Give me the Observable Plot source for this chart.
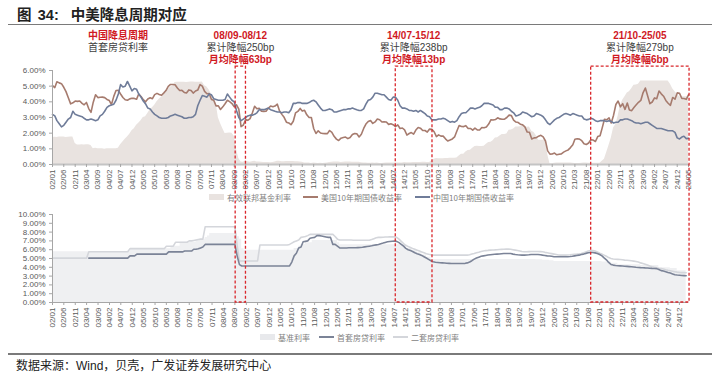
<!DOCTYPE html>
<html><head><meta charset="utf-8">
<script src="https://cdn.jsdelivr.net/npm/d3@7"></script>
<script src="https://cdn.jsdelivr.net/npm/@observablehq/plot@0.6"></script>
<style>
body{margin:0;background:#fff;}
#root{position:relative;width:719px;height:377px;overflow:hidden;background:#fff;font-family:"Liberation Sans","Noto Sans CJK SC",sans-serif;}
.abs{position:absolute;}
.ann{position:absolute;transform:translateX(-50%);text-align:center;white-space:nowrap;font-size:10px;line-height:12px;}
.red{color:#d0191f;font-weight:bold;}
.gray{color:#404040;}
.leg{position:absolute;display:flex;align-items:center;font-size:8px;color:#7f7f7f;white-space:nowrap;font-family:"Noto Sans CJK SC","Liberation Sans",sans-serif;}
.leg .it{display:flex;align-items:center;margin-right:0;}
.leg svg{margin-right:3px;}
</style></head><body>
<div id="root">
  <div class="abs" style="left:17px;top:5px;font-size:14.5px;font-weight:bold;color:#222;line-height:18px;white-space:nowrap;font-family:'Noto Sans CJK SC','Liberation Sans',sans-serif;">图 <span style="font-family:'Liberation Sans';margin-left:3px;">34:</span><span style="margin-left:12px;">中美降息周期对应</span></div>
  <div class="abs" style="left:8px;top:23.5px;width:704px;height:1.5px;background:#7a7a7a;"></div>
  <div id="annots"></div>
  <div id="top" class="abs" style="left:0;top:60px;"></div>
  <div id="legTop" class="leg" style="top:191px;left:0;"></div>
  <div id="bot" class="abs" style="left:0;top:205px;"></div>
  <div id="legBot" class="leg" style="top:331px;left:0;"></div>
  <div class="abs" style="left:8px;top:353px;width:704px;height:1.5px;background:#7a7a7a;"></div>
  <div class="abs" style="left:16px;top:357px;font-size:12px;line-height:16px;color:#222;white-space:nowrap;font-family:'Noto Sans CJK SC','Liberation Sans',sans-serif;">数据来源：<span style="font-family:'Liberation Sans'">Wind</span>，贝壳，广发证券发展研究中心</div>
</div>
<script>
// ---------- DATA (monthly, starting 2002-01) ----------
const fedFunds = [
 [1.73,1.74,1.73,1.75,1.75,1.75,1.73,1.74,1.75,1.75,1.34,1.24],
 [1.24,1.26,1.25,1.26,1.26,1.22,1.01,1.03,1.01,1.01,1.00,0.98],
 [1.00,1.01,1.00,1.00,1.00,1.03,1.26,1.43,1.61,1.76,1.93,2.16],
 [2.28,2.50,2.63,2.79,3.00,3.04,3.26,3.50,3.62,3.78,4.00,4.16],
 [4.29,4.49,4.59,4.79,4.94,4.99,5.24,5.25,5.25,5.25,5.25,5.24],
 [5.25,5.26,5.26,5.25,5.25,5.25,5.26,5.02,4.94,4.76,4.49,4.24],
 [3.94,2.98,2.61,2.28,1.98,2.00,2.01,2.00,1.81,0.97,0.39,0.16],
 [0.15,0.22,0.18,0.15,0.18,0.21,0.16,0.16,0.15,0.12,0.12,0.12],
 [0.11,0.13,0.16,0.20,0.20,0.18,0.18,0.19,0.19,0.19,0.19,0.18],
 [0.17,0.16,0.14,0.10,0.09,0.09,0.07,0.10,0.08,0.07,0.08,0.07],
 [0.08,0.10,0.13,0.14,0.16,0.16,0.16,0.13,0.14,0.16,0.16,0.16],
 [0.14,0.15,0.14,0.15,0.11,0.09,0.09,0.08,0.08,0.09,0.08,0.09],
 [0.07,0.07,0.08,0.09,0.09,0.10,0.09,0.09,0.09,0.09,0.09,0.12],
 [0.11,0.11,0.11,0.12,0.12,0.13,0.13,0.14,0.14,0.12,0.12,0.24],
 [0.34,0.38,0.36,0.37,0.37,0.38,0.39,0.40,0.40,0.40,0.41,0.54],
 [0.65,0.66,0.79,0.90,0.91,1.04,1.15,1.16,1.15,1.15,1.16,1.30],
 [1.41,1.42,1.51,1.69,1.70,1.82,1.91,1.91,1.95,2.19,2.20,2.27],
 [2.40,2.40,2.41,2.42,2.39,2.38,2.40,2.13,2.04,1.83,1.55,1.55],
 [1.55,1.58,0.65,0.05,0.05,0.08,0.09,0.10,0.09,0.09,0.09,0.09],
 [0.09,0.08,0.07,0.07,0.06,0.08,0.10,0.09,0.08,0.08,0.08,0.08],
 [0.08,0.08,0.20,0.33,0.77,1.21,1.68,2.33,2.56,3.08,3.78,4.10],
 [4.33,4.57,4.65,4.83,5.06,5.08,5.12,5.33,5.33,5.33,5.33,5.33],
 [5.33,5.33,5.33,5.33,5.33,5.33,5.33,5.33,5.13,4.83,4.64,4.48],
 [4.33,4.33,4.33,4.33,4.33]
].flat();

const us10y = [
 [5.04,4.91,5.28,5.21,5.16,4.93,4.65,4.26,3.87,3.94,4.05,4.03],
 [4.05,3.90,3.81,3.96,3.57,3.33,3.98,4.45,4.27,4.29,4.30,4.27],
 [4.15,4.08,3.83,4.35,4.72,4.73,4.50,4.28,4.13,4.10,4.19,4.23],
 [4.22,4.17,4.50,4.34,4.14,4.00,4.18,4.26,4.20,4.46,4.54,4.47],
 [4.42,4.57,4.72,4.99,5.11,5.11,5.09,4.88,4.72,4.73,4.60,4.56],
 [4.76,4.72,4.56,4.69,4.75,5.10,5.00,4.67,4.52,4.53,4.15,4.10],
 [3.74,3.74,3.51,3.68,3.88,4.10,4.01,3.89,3.69,3.81,3.53,2.42],
 [2.52,2.87,2.82,2.93,3.29,3.72,3.56,3.59,3.40,3.39,3.40,3.59],
 [3.73,3.69,3.73,3.85,3.42,3.20,3.01,2.70,2.65,2.54,2.76,3.29],
 [3.39,3.58,3.41,3.46,3.17,3.00,3.00,2.30,1.98,2.15,2.01,1.98],
 [1.97,1.97,2.17,2.05,1.80,1.62,1.53,1.68,1.72,1.75,1.65,1.72],
 [1.91,1.98,1.96,1.76,1.93,2.30,2.58,2.74,2.81,2.62,2.72,2.90],
 [2.86,2.71,2.72,2.71,2.56,2.60,2.54,2.42,2.53,2.30,2.33,2.21],
 [1.88,1.98,2.04,1.94,2.20,2.36,2.32,2.17,2.17,2.07,2.26,2.24],
 [2.09,1.78,1.89,1.81,1.81,1.64,1.50,1.56,1.63,1.76,2.14,2.49],
 [2.43,2.42,2.48,2.30,2.30,2.19,2.32,2.21,2.20,2.36,2.35,2.40],
 [2.58,2.86,2.84,2.87,2.98,2.91,2.89,2.89,3.00,3.15,3.12,2.83],
 [2.71,2.68,2.57,2.53,2.40,2.07,2.06,1.63,1.70,1.71,1.81,1.86],
 [1.76,1.50,0.87,0.66,0.67,0.73,0.62,0.65,0.68,0.79,0.87,0.93],
 [1.08,1.26,1.61,1.64,1.62,1.52,1.32,1.28,1.37,1.58,1.56,1.47],
 [1.78,1.83,2.32,2.89,2.85,2.98,2.65,3.15,3.83,4.05,3.68,3.88],
 [3.52,3.92,3.48,3.44,3.64,3.81,3.97,4.09,4.59,4.88,4.37,3.88],
 [3.99,4.25,4.20,4.69,4.51,4.36,4.09,3.91,3.78,4.28,4.17,4.57],
 [4.54,4.21,4.21,4.16,4.45]
].flat();

const cn10y = [
 [3.20,3.10,2.80,2.60,2.40,2.50,2.70,2.90,3.00,3.40,3.20,3.15],
 [3.10,3.05,2.95,2.85,2.85,2.90,2.85,2.80,2.85,3.10,3.20,3.40],
 [3.65,3.75,3.80,3.85,4.10,4.50,5.10,4.95,5.00,5.30,5.00,4.70],
 [4.85,4.80,4.50,4.30,4.05,3.87,3.60,3.55,3.35,3.20,3.10,3.00],
 [2.95,2.95,2.95,3.00,3.10,3.15,3.20,3.15,3.10,3.05,2.95,2.95],
 [3.00,3.00,3.05,3.20,3.75,4.10,4.40,4.35,4.30,4.50,4.45,4.20],
 [4.15,4.10,4.10,4.10,4.15,4.50,4.30,4.10,4.00,3.45,3.00,2.80],
 [2.90,3.00,3.10,3.15,3.15,3.20,3.30,3.50,3.50,3.50,3.55,3.60],
 [3.50,3.45,3.40,3.35,3.35,3.30,3.35,3.35,3.30,3.50,3.90,3.90],
 [3.95,3.95,3.90,3.90,3.90,3.95,4.05,4.10,4.00,3.80,3.60,3.45],
 [3.45,3.50,3.55,3.50,3.35,3.35,3.40,3.45,3.50,3.50,3.55,3.55],
 [3.60,3.55,3.50,3.45,3.45,3.55,3.85,4.10,4.15,4.30,4.55,4.55],
 [4.50,4.45,4.45,4.30,4.15,4.10,4.30,4.30,4.10,3.75,3.60,3.60],
 [3.55,3.45,3.45,3.40,3.45,3.35,3.45,3.35,3.25,3.10,3.05,2.85],
 [2.85,2.85,2.90,2.90,2.95,2.90,2.80,2.70,2.75,2.70,2.80,3.05],
 [3.25,3.30,3.30,3.45,3.60,3.60,3.55,3.60,3.65,3.75,3.90,3.90],
 [3.90,3.85,3.80,3.65,3.65,3.50,3.50,3.60,3.60,3.55,3.40,3.30],
 [3.10,3.15,3.20,3.35,3.30,3.25,3.15,3.05,3.10,3.25,3.20,3.15],
 [3.05,2.85,2.65,2.55,2.70,2.85,2.95,3.00,3.10,3.20,3.25,3.20],
 [3.15,3.25,3.20,3.15,3.10,3.10,2.90,2.85,2.88,2.95,2.90,2.80],
 [2.75,2.80,2.80,2.80,2.75,2.80,2.75,2.65,2.70,2.70,2.85,2.85],
 [2.90,2.90,2.85,2.80,2.70,2.65,2.65,2.60,2.65,2.70,2.70,2.60],
 [2.50,2.40,2.30,2.30,2.30,2.25,2.20,2.15,2.15,2.15,2.05,1.70],
 [1.63,1.75,1.80,1.65,1.67]
].flat();

// bottom chart (monthly from 2002-01 to 2025-03)
const benchmarkRate = [
 [5.76,5.76,5.76,5.76,5.76,5.76,5.76,5.76,5.76,5.76,5.76,5.76],
 [5.76,5.76,5.76,5.76,5.76,5.76,5.76,5.76,5.76,5.76,5.76,5.76],
 [5.76,5.76,5.76,5.76,5.76,5.76,5.76,5.76,5.76,5.76,6.12,6.12],
 [6.12,6.12,6.12,6.12,6.12,6.12,6.12,6.12,6.12,6.12,6.12,6.12],
 [6.12,6.12,6.12,6.12,6.39,6.39,6.39,6.39,6.84,6.84,6.84,6.84],
 [6.84,6.84,6.84,7.11,7.11,7.20,7.20,7.38,7.56,7.83,7.83,7.83],
 [7.83,7.83,7.83,7.83,7.83,7.83,7.83,7.83,7.83,7.47,7.20,6.12],
 [5.94,5.94,5.94,5.94,5.94,5.94,5.94,5.94,5.94,5.94,5.94,5.94],
 [5.94,5.94,5.94,5.94,5.94,5.94,5.94,5.94,5.94,5.94,6.14,6.14],
 [6.40,6.60,6.60,6.80,6.80,6.80,7.05,7.05,7.05,7.05,7.05,7.05],
 [7.05,7.05,7.05,7.05,7.05,6.80,6.55,6.55,6.55,6.55,6.55,6.55],
 [6.55,6.55,6.55,6.55,6.55,6.55,6.55,6.55,6.55,6.55,6.55,6.55],
 [6.55,6.55,6.55,6.55,6.55,6.55,6.55,6.55,6.55,6.55,6.55,6.15],
 [6.15,6.15,5.90,5.90,5.65,5.65,5.40,5.40,5.15,5.15,4.90,4.90],
 [4.90,4.90,4.90,4.90,4.90,4.90,4.90,4.90,4.90,4.90,4.90,4.90],
 [4.90,4.90,4.90,4.90,4.90,4.90,4.90,4.90,4.90,4.90,4.90,4.90],
 [4.90,4.90,4.90,4.90,4.90,4.90,4.90,4.90,4.90,4.90,4.90,4.90],
 [4.90,4.90,4.90,4.90,4.90,4.90,4.90,4.90,4.85,4.85,4.85,4.80],
 [4.80,4.80,4.75,4.75,4.65,4.65,4.65,4.65,4.65,4.65,4.65,4.65],
 [4.65,4.65,4.65,4.65,4.65,4.65,4.65,4.65,4.65,4.65,4.65,4.65],
 [4.65,4.60,4.60,4.60,4.60,4.45,4.45,4.45,4.30,4.30,4.30,4.30],
 [4.30,4.30,4.30,4.30,4.30,4.30,4.20,4.20,4.20,4.20,4.20,4.20],
 [4.20,4.20,3.95,3.95,3.95,3.95,3.95,3.85,3.85,3.85,3.60,3.60],
 [3.60,3.60,3.60]
].flat();

const firstHomeRate = [
 [null,null,null,null,null,null,null,null,null,null,null,null],
 [null,null,null,null,5.04,5.04,5.04,5.04,5.04,5.04,5.04,5.04],
 [5.04,5.04,5.04,5.04,5.04,5.04,5.04,5.04,5.04,5.04,5.30,5.30],
 [5.30,5.50,5.50,5.50,5.50,5.50,5.50,5.50,5.50,5.50,5.50,5.50],
 [5.50,5.50,5.50,5.75,5.75,5.75,5.75,5.75,5.75,5.75,5.85,5.85],
 [5.85,5.85,6.05,6.05,6.10,6.20,6.30,6.60,6.60,6.60,6.60,6.60],
 [6.60,6.60,6.60,6.60,6.60,6.60,6.60,6.60,6.60,5.30,4.30,4.15],
 [4.15,4.15,4.15,4.15,4.15,4.15,4.15,4.15,4.15,4.15,4.15,4.15],
 [4.15,4.15,4.15,4.15,4.15,4.15,4.15,4.15,4.15,4.60,5.30,5.60],
 [6.20,6.30,6.90,6.95,7.00,7.30,7.35,7.40,7.60,7.60,7.55,7.50],
 [7.45,7.40,7.40,6.60,6.60,6.40,6.20,6.20,6.20,6.20,6.22,6.22],
 [6.22,6.23,6.24,6.25,6.28,6.32,6.36,6.40,6.44,6.50,6.55,6.60],
 [6.68,6.75,6.82,6.90,6.93,6.96,6.97,6.95,6.80,6.60,6.40,6.15],
 [6.00,5.90,5.80,5.65,5.55,5.46,5.35,5.20,5.05,4.90,4.75,4.63],
 [4.58,4.55,4.52,4.50,4.48,4.46,4.45,4.44,4.44,4.44,4.44,4.44],
 [4.44,4.45,4.50,4.60,4.75,4.93,5.05,5.15,5.25,5.30,5.35,5.40],
 [5.43,5.46,5.48,5.50,5.52,5.54,5.56,5.57,5.57,5.56,5.50,5.45],
 [5.42,5.40,5.38,5.38,5.40,5.42,5.45,5.46,5.46,5.46,5.42,5.38],
 [5.35,5.30,5.28,5.25,5.20,5.20,5.20,5.20,5.20,5.20,5.20,5.22],
 [5.25,5.30,5.35,5.38,5.45,5.50,5.58,5.65,5.69,5.68,5.64,5.57],
 [5.45,5.30,5.08,4.85,4.55,4.33,4.25,4.20,4.18,4.16,4.14,4.12],
 [4.10,4.08,4.06,4.03,4.00,3.98,3.96,3.95,3.93,3.92,3.90,3.88],
 [3.87,3.85,3.75,3.62,3.57,3.50,3.42,3.35,3.25,3.15,3.12,3.10],
 [3.06,3.05,3.04]
].flat();

const secondHomeRate = [
 [5.04,5.04,5.04,5.04,5.04,5.04,5.04,5.04,5.04,5.04,5.04,5.04],
 [5.04,5.04,5.04,5.04,5.76,5.76,5.76,5.76,5.76,5.76,5.76,5.76],
 [5.76,5.76,5.76,5.76,5.76,5.76,5.76,5.76,5.76,5.76,6.12,6.12],
 [6.12,6.12,6.12,6.12,6.12,6.12,6.12,6.12,6.12,6.12,6.12,6.12],
 [6.12,6.12,6.40,6.40,6.40,6.40,6.84,6.84,6.84,6.84,6.84,6.84],
 [7.00,7.00,7.05,7.10,7.15,7.20,7.20,8.60,8.60,8.60,8.60,8.60],
 [8.60,8.60,8.60,8.60,8.60,8.60,8.60,8.60,8.60,6.50,4.72,4.72],
 [4.72,4.72,4.72,4.72,4.72,4.72,4.72,6.53,6.53,6.53,6.53,6.53],
 [6.53,6.53,6.53,6.53,6.53,6.53,6.53,6.53,6.60,6.75,6.90,7.00],
 [7.10,7.40,7.45,7.50,7.60,7.74,7.74,7.74,7.74,7.74,7.74,7.74],
 [7.74,7.74,7.74,7.74,7.50,7.20,7.10,7.10,7.10,7.10,7.10,7.10],
 [7.08,7.08,7.08,7.08,7.08,7.08,7.08,7.08,7.15,7.25,7.35,7.40],
 [7.40,7.42,7.44,7.45,7.46,7.46,7.46,7.40,7.20,6.95,6.70,6.50],
 [6.35,6.25,6.15,6.05,5.95,5.85,5.75,5.65,5.55,5.48,5.42,5.38],
 [5.38,5.38,5.38,5.38,5.38,5.38,5.38,5.38,5.38,5.38,5.38,5.38],
 [5.38,5.38,5.38,5.42,5.50,5.57,5.65,5.72,5.80,5.85,5.90,5.92],
 [5.95,5.97,5.98,6.00,6.02,6.04,6.05,6.06,6.06,6.05,6.00,5.95],
 [5.90,5.85,5.80,5.76,5.76,5.78,5.80,5.80,5.80,5.80,5.78,5.76],
 [5.70,5.65,5.60,5.55,5.50,5.45,5.40,5.38,5.38,5.38,5.40,5.42],
 [5.45,5.48,5.50,5.53,5.57,5.65,5.75,5.85,5.90,5.90,5.85,5.75],
 [5.60,5.50,5.38,5.25,5.10,5.00,4.95,4.92,4.90,4.88,4.85,4.82],
 [4.80,4.78,4.75,4.70,4.65,4.60,4.50,4.44,4.35,4.25,4.15,4.06],
 [4.00,3.95,3.90,3.87,3.80,3.72,3.65,3.60,3.55,3.50,3.45,3.42],
 [3.40,3.39,3.38]
].flat();

const topLegend = ["有效联邦基金利率","美国10年期国债收益率","中国10年期国债收益率"];
const botLegend = ["基准利率","首套房贷利率","二套房贷利率"];
const topYTicks = [0,1,2,3,4,5,6];
const botYTicks = [0,1,2,3,4,5,6,7,8,9,10];
// cut periods: [start, end, label, cumulative, monthly]
const periods = [
 {s:"2008-09-20", e:"2009-02-05", label:"08/09-08/12", cum:"250bp", avg:"63bp"},
 {s:"2014-08-05", e:"2015-12-10", label:"14/07-15/12", cum:"238bp", avg:"13bp"},
 {s:"2021-10-05", e:"2025-05-15", label:"21/10-25/05", cum:"279bp", avg:"6bp"}
];

// ---------- BUILD ----------
const mDate = i => new Date(Date.UTC(2002, i, 1));
const topData = fedFunds.map((v,i)=>({date:mDate(i), fed:v, us:us10y[i], cn:cn10y[i]}));
const botData = benchmarkRate.map((v,i)=>({date:mDate(i), base:v, first:firstHomeRate[i], second:secondHomeRate[i]}));
const topTicks = d3.range(0, 281, 5).map(mDate);
const botTicks = d3.range(0, 276, 5).map(mDate);
const fmtTick = d3.utcFormat("%y/%m");
const pct = d => d.toFixed(2) + "%";

const C = {fed:"#e9e3e0", us:"#a67b6e", cn:"#6f7c99", base:"#eff0f2", first:"#7b8397", second:"#d4d6db", axis:"#a6a6a6", text:"#595959"};
const baseStyle = {fontSize:"8px", fontFamily:"'Liberation Sans','Noto Sans CJK SC',sans-serif", color:C.text, background:"transparent", overflow:"visible"};

const topChart = Plot.plot({
  width:719, height:150, marginTop:10, marginBottom:46, marginLeft:52, marginRight:31,
  style: baseStyle,
  x:{type:"utc", domain:[mDate(0), mDate(280)]},
  y:{domain:[0,6]},
  marks:[
    Plot.areaY(topData, {x:"date", y:"fed", fill:C.fed, curve:"linear"}),
    Plot.line(topData, {x:"date", y:"us", stroke:C.us, strokeWidth:1.6}),
    Plot.line(topData, {x:"date", y:"cn", stroke:C.cn, strokeWidth:1.6}),
    Plot.ruleY([0], {stroke:"#c4c4c4", strokeWidth:2}),
    Plot.ruleX([mDate(0)], {stroke:C.axis, strokeWidth:1}),
    Plot.axisY({ticks:topYTicks, tickFormat:pct, tickSize:3, tickPadding:4, stroke:C.axis, fill:C.text, label:null}),
    Plot.axisX({ticks:topTicks, tickFormat:fmtTick, tickRotate:-90, tickSize:3, tickPadding:2, stroke:C.axis, fill:C.text, label:null})
  ]
});
document.getElementById("top").appendChild(topChart);

const botChart = Plot.plot({
  width:719, height:125, marginTop:9, marginBottom:28, marginLeft:52, marginRight:31,
  style: baseStyle,
  x:{type:"utc", domain:[mDate(0), mDate(279)]},
  y:{domain:[0,10]},
  marks:[
    Plot.areaY(botData, {x:"date", y:"base", fill:C.base, curve:"step-after"}),
    Plot.line(botData, {x:"date", y:"second", stroke:C.second, strokeWidth:1.6}),
    Plot.line(botData, {x:"date", y:"first", stroke:C.first, strokeWidth:1.6}),
    Plot.ruleY([0], {stroke:C.axis, strokeWidth:1}),
    Plot.ruleX([mDate(0)], {stroke:C.axis, strokeWidth:1}),
    Plot.axisY({ticks:botYTicks, tickFormat:pct, tickSize:3, tickPadding:4, stroke:C.axis, fill:C.text, label:null}),
    Plot.axisX({ticks:botTicks, tickFormat:fmtTick, tickRotate:-90, tickSize:3, tickPadding:2, stroke:C.axis, fill:C.text, label:null})
  ]
});
document.getElementById("bot").appendChild(botChart);

// ---------- LEGENDS ----------
function legend(el, items){
  const root = document.getElementById(el);
  items.forEach(it=>{
    const d = document.createElement("div");
    d.className = "it";
    d.style.position = "absolute";
    d.style.left = it.x + "px";
    d.style.top = "0px";
    d.style.height = "12px";
    const sw = it.type === "area"
      ? `<svg width="15" height="6"><rect x="0" y="0" width="15" height="6" fill="${it.color}"/></svg>`
      : `<svg width="15" height="6"><line x1="0" y1="3" x2="15" y2="3" stroke="${it.color}" stroke-width="2"/></svg>`;
    d.innerHTML = sw + `<span>${it.label}</span>`;
    root.appendChild(d);
  });
}
legend("legTop", [
  {x:209, type:"area", color:C.fed, label:topLegend[0]},
  {x:303, type:"line", color:C.us, label:topLegend[1]},
  {x:415, type:"line", color:C.cn, label:topLegend[2]}
]);
legend("legBot", [
  {x:260, type:"area", color:"#e8e9ec", label:botLegend[0]},
  {x:319, type:"line", color:C.first, label:botLegend[1]},
  {x:393, type:"line", color:C.second, label:botLegend[2]}
]);

// ---------- CUT PERIOD BOXES & ANNOTATIONS ----------
const xs = topChart.scale("x");
const yTop = topChart.scale("y");
const yBot = botChart.scale("y");
const topOff = 60, botOff = 205;
const boxTop = topOff + yTop.apply(6.25);
const boxBot = botOff + yBot.apply(0);
const ns = "http://www.w3.org/2000/svg";
const ov = document.createElementNS(ns, "svg");
ov.setAttribute("width", 719); ov.setAttribute("height", 377);
ov.style.position = "absolute"; ov.style.left = "0"; ov.style.top = "0"; ov.style.pointerEvents = "none";
const ann = document.getElementById("annots");
periods.forEach(p=>{
  const x0 = xs.apply(new Date(p.s + "T00:00:00Z"));
  const x1 = xs.apply(new Date(p.e + "T00:00:00Z"));
  const r = document.createElementNS(ns, "rect");
  r.setAttribute("x", x0); r.setAttribute("y", boxTop);
  r.setAttribute("width", x1 - x0); r.setAttribute("height", boxBot - boxTop);
  r.setAttribute("fill", "none"); r.setAttribute("stroke", "#d9262b");
  r.setAttribute("stroke-width", "1.3"); r.setAttribute("stroke-dasharray", "3,2");
  ov.appendChild(r);
  const a = document.createElement("div");
  a.className = "ann";
  a.style.left = ((x0 + x1) / 2) + "px";
  a.style.top = "29.5px";
  a.innerHTML = `<div class="red">${p.label}</div><div class="gray">累计降幅${p.cum}</div><div class="red">月均降幅${p.avg}</div>`;
  ann.appendChild(a);
});
const a0 = document.createElement("div");
a0.className = "ann";
a0.style.left = "118px"; a0.style.top = "29.5px";
a0.innerHTML = `<div class="red">中国降息周期</div><div class="gray">首套房贷利率</div>`;
ann.appendChild(a0);
document.getElementById("root").appendChild(ov);
</script>
</body></html>
